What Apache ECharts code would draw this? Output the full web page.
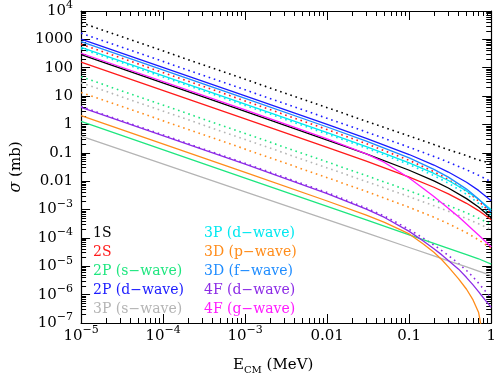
<!DOCTYPE html>
<html>
<head>
<meta charset="utf-8">
<script src="https://cdn.jsdelivr.net/npm/echarts@6/dist/echarts.min.js"></script>
<style>
  html, body { margin: 0; padding: 0; background: #fff; }
  #chart { width: 499px; height: 380px; }
</style>
</head>
<body>
<div id="chart"></div>
<script>
// energies (MeV) at which the curves were read
var energies = [1e-5, 1e-3, 0.01, 0.03, 0.1, 0.2, 0.3, 0.5, 0.7, 1];
// denser reading for the strongly bending curves
var energiesFine = [1e-5, 1e-3, 0.01, 0.03, 0.05, 0.1, 0.15, 0.2, 0.25, 0.3, 0.4, 0.5, 0.6, 0.7, 0.75, 0.85, 1];

// cross sections (mb), solid = full, dotted = approx
var s1S      = [288, 2.88, 0.282, 0.0912, 0.0243, 0.0102, 0.00573, 0.00243, 0.00123, 5.1e-4];
var s1Sdot   = [3900, 39, 3.9, 1.3, 0.39, 0.195, 0.13, 0.079, 0.056, 0.042];
var s2S      = [158, 1.58, 0.156, 0.0508, 0.0139, 0.00612, 0.00359, 0.00166, 9.2e-4, 4.4e-4];
var s2Sdot   = [676, 6.76, 0.661, 0.211, 0.0541, 0.0216, 0.0115, 0.00443, 0.00202, 7.2e-4];
var s2Ps     = [1.29, 0.0129, 1.29e-3, 4.3e-4, 1.29e-4, 6.44e-5, 4.3e-5, 2.58e-5, 1.84e-5, 1.2e-5];
var s2PsDot  = [47.9, 0.479, 0.0476, 0.0157, 0.00457, 0.00218, 0.00139, 7.6e-4, 4.95e-4, 3.0e-4];
var s2Pd     = [1023, 10.2, 1.007, 0.325, 0.0871, 0.0371, 0.021, 0.00914, 0.00473, 0.00204];
var s2PdDot  = [1660, 16.6, 1.65, 0.544, 0.157, 0.0743, 0.0469, 0.0252, 0.0161, 0.00955];
var s3Ps     = [0.389, 0.00423, 4.4e-4, 1.5e-4, 4.59e-5, 2.32e-5, 1.56e-5, 9.46e-6, 6.8e-6, 4.79e-6];
var s3PsDot  = [29.5, 0.295, 0.0294, 0.00973, 0.00283, 0.00136, 8.7e-4, 4.8e-4, 3.15e-4, 1.95e-4];
var s3Pd     = [525, 5.25, 0.516, 0.166, 0.0444, 0.0187, 0.0106, 0.00453, 0.00231, 9.8e-4];
var s3PdDot  = [468, 4.68, 0.458, 0.147, 0.0383, 0.0157, 0.00855, 0.00344, 0.00164, 6.3e-4];
var s3DpDot  = [13.5, 0.135, 0.0133, 0.00435, 0.0012, 5.36e-4, 3.18e-4, 1.52e-4, 8.6e-5, 4.27e-5];
var s3Df     = [832, 8.32, 0.813, 0.259, 0.0661, 0.0262, 0.0139, 0.00526, 0.00237, 8.3e-4];
// on energiesFine
var s3Dp     = [2.04, 0.0204, 0.002, 6.35e-4, 3.55e-4, 1.38e-4, 6.0e-5, 3.1e-5, 1.7e-5, 9.5e-6,
                3.6e-6, 1.55e-6, 6.5e-7, 2.4e-7, 8.3e-8, 1e-9, 1e-12];
var s4Fd     = [3.98, 0.0398, 3.63e-3, 1.03e-3, 5.26e-4, 1.7e-4, 7.66e-5, 4.16e-5, 2.52e-5, 1.6e-5,
                7.9e-6, 4.0e-6, 2.2e-6, 1.27e-6, 9.9e-7, 6.3e-7, 3.55e-7];
var s4FdDot  = [4.27, 0.0427, 3.98e-3, 1.13e-3, 5.9e-4, 2.0e-4, 9.6e-5, 5.6e-5, 3.56e-5, 2.42e-5,
                1.25e-5, 7.1e-6, 4.2e-6, 2.54e-6, 2.02e-6, 1.32e-6, 7.6e-7];
var s4Fg     = [324, 3.24, 0.309, 0.0918, 0.0458, 0.0129, 0.00542, 0.00288, 0.0017, 0.0011,
                5.6e-4, 3.1e-4, 1.91e-4, 1.27e-4, 1.06e-4, 7.5e-5, 4.8e-5];

// tick labels
var xTickValues = [1e-5, 1e-4, 1e-3, 0.01, 0.1, 1];
var xTickTexts = ['{b|10}{s|−5}', '{b|10}{s|−4}', '{b|10}{s|−3}', '{b|0.01}', '{b|0.1}', '{b|1}'];
var yTickValues = [1e-7, 1e-6, 1e-5, 1e-4, 1e-3, 0.01, 0.1, 1, 10, 100, 1000, 1e4];
var yTickTexts = ['{b|10}{s|−7}', '{b|10}{s|−6}', '{b|10}{s|−5}', '{b|10}{s|−4}', '{b|10}{s|−3}',
  '{b|0.01}', '{b|0.1}', '{b|1}', '{b|10}', '{b|100}', '{b|1000}', '{b|10}{s|4}'];

var legendLeft = ['1S', '2S', '2P (s−wave)', '2P (d−wave)', '3P (s−wave)'];
var legendRight = ['3P (d−wave)', '3D (p−wave)', '3D (f−wave)', '4F (d−wave)', '4F (g−wave)'];

var colors = {
  '1S': '#000000',
  '2S': '#ff1a1a',
  '2P (s−wave)': '#1ee67f',
  '2P (d−wave)': '#1a1aff',
  '3P (s−wave)': '#b4b4b4',
  '3P (d−wave)': '#00e8f0',
  '3D (p−wave)': '#ff8c1a',
  '3D (f−wave)': '#1e8cff',
  '4F (d−wave)': '#8c2be6',
  '4F (g−wave)': '#ff1aff'
};

// [legend name, energies, values, dotted]
var curves = [
  ['1S', energies, s1Sdot, true], ['2P (d−wave)', energies, s2PdDot, true], ['2S', energies, s2Sdot, true],
  ['3P (d−wave)', energies, s3PdDot, true], ['2P (s−wave)', energies, s2PsDot, true],
  ['3P (s−wave)', energies, s3PsDot, true], ['3D (p−wave)', energies, s3DpDot, true],
  ['4F (d−wave)', energiesFine, s4FdDot, true],
  ['3P (s−wave)', energies, s3Ps, false], ['2P (s−wave)', energies, s2Ps, false],
  ['3D (p−wave)', energiesFine, s3Dp, false], ['4F (d−wave)', energiesFine, s4Fd, false],
  ['2S', energies, s2S, false], ['1S', energies, s1S, false], ['4F (g−wave)', energiesFine, s4Fg, false],
  ['3P (d−wave)', energies, s3Pd, false], ['3D (f−wave)', energies, s3Df, false],
  ['2P (d−wave)', energies, s2Pd, false]
];

function minorTicks(lo, hi) {
  var out = [];
  for (var k = lo; k < hi; k++) {
    for (var m = 2; m <= 9; m++) out.push(m * Math.pow(10, k));
  }
  return out;
}

var font = 'DejaVu Serif';
var richLabel = {
  b: { fontFamily: font, fontSize: 15, color: '#000', lineHeight: 22 },
  s: { fontFamily: font, fontSize: 11, color: '#000', lineHeight: 12, verticalAlign: 'top' }
};

function labelFor(values, texts) {
  return function (v) {
    var best = 0;
    for (var i = 0; i < values.length; i++) {
      if (Math.abs(Math.log10(values[i]) - Math.log10(v)) < Math.abs(Math.log10(values[best]) - Math.log10(v))) best = i;
    }
    return texts[best];
  };
}

var axisLine = { show: true, lineStyle: { color: '#000', width: 1.2 } };

function xAx(pos, major, labels) {
  return {
    type: 'log', logBase: 10, min: 1e-5, max: 1, position: pos,
    axisLine: major ? axisLine : { show: false },
    splitLine: { show: false },
    axisTick: {
      show: true, inside: true, length: major ? 9 : 5,
      customValues: major ? xTickValues : minorTicks(-5, 0),
      lineStyle: { color: '#000', width: 1 }
    },
    axisLabel: labels ? {
      show: true, customValues: xTickValues, margin: 2,
      formatter: labelFor(xTickValues, xTickTexts), rich: richLabel
    } : { show: false }
  };
}

function yAx(pos, major, labels) {
  return {
    type: 'log', logBase: 10, min: 1e-7, max: 1e4, position: pos,
    axisLine: major ? axisLine : { show: false },
    splitLine: { show: false },
    axisTick: {
      show: true, inside: true, length: major ? 9 : 5,
      customValues: major ? yTickValues : minorTicks(-7, 4),
      lineStyle: { color: '#000', width: 1 }
    },
    axisLabel: labels ? {
      show: true, customValues: yTickValues, margin: 8,
      formatter: labelFor(yTickValues, yTickTexts), rich: richLabel
    } : { show: false }
  };
}

var xAxes = [xAx('bottom', true, true), xAx('bottom', false, false), xAx('top', true, false), xAx('top', false, false)];
xAxes[0].name = '{b|E}{sub|CM}{b| (MeV)}';
xAxes[0].nameLocation = 'middle';
xAxes[0].nameGap = 32;
xAxes[0].nameTextStyle = {
  fontFamily: font, fontSize: 15, color: '#000',
  padding: [0, 26, 0, 0],
  rich: {
    b: { fontFamily: font, fontSize: 15, color: '#000', lineHeight: 20 },
    sub: { fontFamily: font, fontSize: 10, color: '#000', lineHeight: 10, verticalAlign: 'bottom' }
  }
};

var yAxes = [yAx('left', true, true), yAx('left', false, false), yAx('right', true, false), yAx('right', false, false)];
yAxes[0].name = '{i|σ} (mb)';
yAxes[0].nameLocation = 'middle';
yAxes[0].nameGap = 48;
yAxes[0].nameTextStyle = {
  fontFamily: font, fontSize: 15, color: '#000',
  rich: { i: { fontFamily: font, fontSize: 16, fontStyle: 'italic', color: '#000' } }
};

var series = curves.map(function (c) {
  return {
    name: c[0], type: 'line', xAxisIndex: 0, yAxisIndex: 0,
    symbol: 'none', silent: true, clip: true,
    data: c[1].map(function (e, i) { return [e, c[2][i]]; }),
    lineStyle: {
      color: colors[c[0]],
      width: c[3] ? 1.6 : 1.3,
      type: c[3] ? [1.6, 3.8] : 'solid'
    },
    itemStyle: { color: colors[c[0]] }
  };
});

function legendOf(names, left) {
  return {
    orient: 'vertical', left: left, top: 220, icon: 'none',
    itemWidth: 0, itemHeight: 16, itemGap: 3, selectedMode: false,
    data: names.map(function (n) {
      return { name: n, textStyle: { color: colors[n] } };
    }),
    textStyle: { fontFamily: font, fontSize: 14, lineHeight: 16 }
  };
}

var chart = echarts.init(document.getElementById('chart'));
chart.setOption({
  animation: false,
  backgroundColor: '#fff',
  grid: { left: 71, right: 2, top: 10, bottom: 54, containLabel: false },
  legend: [legendOf(legendLeft, 83), legendOf(legendRight, 194)],
  xAxis: xAxes,
  yAxis: yAxes,
  series: series
});
</script>
</body>
</html>
